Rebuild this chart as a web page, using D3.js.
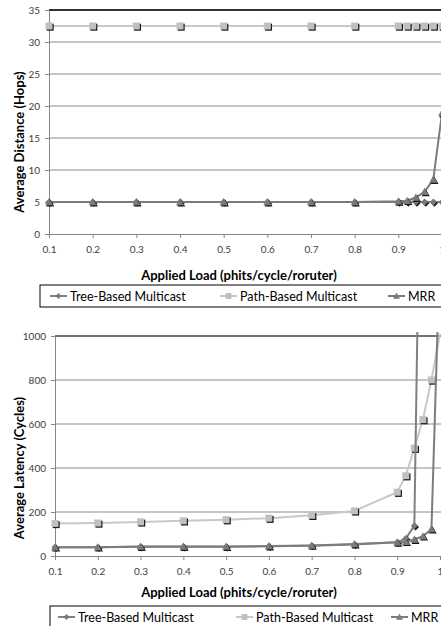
<!DOCTYPE html>
<html lang="en">
  <head>
    <meta charset="UTF-8" />
    <title>Average Distance and Latency vs Applied Load</title>
    <script src="https://d3js.org/d3.v7.min.js"></script>
    <style>
      body {
        margin: 0;
        background: #fff;
      }
      text {
        font-family: Lato, 'Open Sans', sans-serif;
      }
      .tick text {
        font-size: 10px;
        fill: #404040;
      }
      .axis path,
      .axis line {
        stroke: #868686;
      }
      .grid line {
        stroke: #8c8c8c;
      }
    </style>
  </head>
  <body>
    <div id="chart-container"></div>

    <script>
      // Data
      const loads = [0.1, 0.2, 0.3, 0.4, 0.5, 0.6, 0.7, 0.8, 0.9, 0.92, 0.94, 0.96, 0.98, 1];
      const xTicks = [0.1, 0.2, 0.3, 0.4, 0.5, 0.6, 0.7, 0.8, 0.9, 1];
      const seriesNames = ['Tree-Based Multicast', 'Path-Based Multicast', 'MRR'];

      // average distance (hops)
      const treeHops = [5, 5, 5, 5, 5, 5, 5, 5, 5, 5, 5, 5, 5, 5];
      const pathHops = [32.5, 32.5, 32.5, 32.5, 32.5, 32.5, 32.5, 32.5, 32.5, 32.5, 32.5, 32.5, 32.5, 32.5];
      const mrrHops = [5, 5, 5, 5, 5, 5, 5, 5, 5.1, 5.2, 5.7, 6.6, 8.5, 18.9];
      const hopsTicks = [0, 5, 10, 15, 20, 25, 30, 35];

      // average latency (cycles)
      const treeLatency = [40, 40, 42, 42, 42, 44, 47, 52, 62, 80, 137, 2650, null, null];
      const pathLatency = [148, 150, 155, 160, 165, 172, 185, 205, 290, 365, 490, 620, 800, 1010];
      const mrrLatency = [40, 40, 43, 43, 43, 45, 48, 54, 62, 65, 75, 90, 122, 1400];
      const latencyTicks = [0, 200, 400, 600, 800, 1000];

      const svgWidth = 441;
      const svgHeight = 626;

      const svg = d3
        .select('#chart-container')
        .append('svg')
        .attr('width', svgWidth)
        .attr('height', svgHeight);

      // look of each series: line colour, marker shape, marker fill
      const styles = [
        { line: '#808080', shape: 'diamond', fill: '#7a7a7a', size: 7 },
        { line: '#c8c8c8', shape: 'square', fill: '#c0c0c0', size: 7 },
        { line: '#7c7c7c', shape: 'triangle', fill: '#7a7a7a', size: 8 },
      ];

      function markerPath(shape, s) {
        const h = s / 2;
        if (shape === 'diamond') return `M0,${-h}L${h},0L0,${h}L${-h},0Z`;
        if (shape === 'square') return `M${-h},${-h}H${h}V${h}H${-h}Z`;
        return `M0,${-h}L${h},${h * 0.8}L${-h},${h * 0.8}Z`;
      }

      function drawMarker(g, st, x, y) {
        // dark drop shadow like the Excel markers
        g.append('path')
          .attr('d', markerPath(st.shape, st.size))
          .attr('transform', `translate(${x + 1.2},${y + 1.2})`)
          .attr('fill', '#1a1a1a');
        g.append('path')
          .attr('d', markerPath(st.shape, st.size))
          .attr('transform', `translate(${x},${y})`)
          .attr('fill', st.fill);
      }

      function drawChart(cfg) {
        const x = d3.scaleLinear().domain([0.1, 1]).range([cfg.left, cfg.right]);
        const y = d3
          .scaleLinear()
          .domain([0, d3.max(cfg.yTicks)])
          .range([cfg.bottom, cfg.top]);

        const g = svg.append('g');

        // horizontal gridlines
        g.append('g')
          .attr('class', 'grid')
          .selectAll('line')
          .data(cfg.yTicks.slice(1))
          .enter()
          .append('line')
          .attr('x1', cfg.left)
          .attr('x2', svgWidth)
          .attr('y1', (d) => y(d))
          .attr('y2', (d) => y(d));

        // plot area top border
        g.append('line')
          .attr('x1', cfg.left)
          .attr('x2', svgWidth)
          .attr('y1', cfg.top)
          .attr('y2', cfg.top)
          .attr('stroke', cfg.topColor)
          .attr('stroke-width', 1.3);

        // axes
        g.append('g')
          .attr('class', 'axis')
          .attr('transform', `translate(0,${cfg.bottom})`)
          .call(
            d3.axisBottom(x)
              .tickValues(xTicks)
              .tickFormat((d) => (d === 1 ? '1' : d3.format('.1f')(d)))
              .tickSize(4)
              .tickSizeOuter(0)
              .tickPadding(8),
          );

        g.append('g')
          .attr('class', 'axis')
          .attr('transform', `translate(${cfg.left},0)`)
          .call(
            d3.axisLeft(y)
              .tickValues(cfg.yTicks)
              .tickFormat(d3.format('d'))
              .tickSize(4)
              .tickSizeOuter(0)
              .tickPadding(5),
          );

        // series, clipped a little above the plot
        const clipId = 'clip-' + cfg.id;
        g.append('clipPath')
          .attr('id', clipId)
          .append('rect')
          .attr('x', cfg.left - 8)
          .attr('y', cfg.top - 4)
          .attr('width', svgWidth)
          .attr('height', cfg.bottom - cfg.top + 12);

        const plot = g.append('g').attr('clip-path', `url(#${clipId})`);

        const line = d3
          .line()
          .defined((d) => d[1] !== null)
          .x((d) => x(d[0]))
          .y((d) => y(d[1]));

        // draw Path first, then Tree, then MRR on top
        [1, 0, 2].forEach(function (i) {
          const pts = loads.map((l, k) => [l, cfg.series[i][k]]);
          plot.append('path')
            .datum(pts)
            .attr('d', line)
            .attr('fill', 'none')
            .attr('stroke', styles[i].line)
            .attr('stroke-width', 2);
          const mg = plot.append('g');
          pts
            .filter((d) => d[1] !== null && d[1] <= d3.max(cfg.yTicks))
            .forEach((d) => drawMarker(mg, styles[i], x(d[0]), y(d[1])));
        });

        // axis titles
        g.append('text')
          .attr('x', 239)
          .attr('y', cfg.xTitleY)
          .attr('text-anchor', 'middle')
          .style('font-size', '13px')
          .style('font-weight', 'bold')
          .text('Applied Load (phits/cycle/roruter)');

        g.append('text')
          .attr('transform', `translate(24,${cfg.yTitleMid}) rotate(-90)`)
          .attr('text-anchor', 'middle')
          .style('font-size', '13px')
          .style('font-weight', 'bold')
          .text(cfg.yTitle);

        // legend
        const lg = g.append('g');
        lg.append('rect')
          .attr('x', cfg.legendX)
          .attr('y', cfg.legendY)
          .attr('width', svgWidth)
          .attr('height', 22)
          .attr('fill', '#fff')
          .attr('stroke', '#000')
          .attr('stroke-width', 1);

        seriesNames.forEach(function (name, i) {
          const cy = cfg.legendY + 11;
          const ix = cfg.itemX[i];
          lg.append('line')
            .attr('x1', ix)
            .attr('x2', ix + 17)
            .attr('y1', cy)
            .attr('y2', cy)
            .attr('stroke', styles[i].line)
            .attr('stroke-width', 2);
          lg.append('path')
            .attr('d', markerPath(styles[i].shape, styles[i].size - 1))
            .attr('transform', `translate(${ix + 8.5},${cy})`)
            .attr('fill', styles[i].fill);
          lg.append('text')
            .attr('x', ix + 20)
            .attr('y', cy + 4.5)
            .style('font-size', '12.5px')
            .attr('fill', '#000')
            .text(name);
        });
      }

      drawChart({
        id: 'hops',
        left: 49,
        right: 442,
        top: 10,
        bottom: 234,
        topColor: '#000',
        yTicks: hopsTicks,
        series: [treeHops, pathHops, mrrHops],
        xTitleY: 280,
        yTitle: 'Average Distance (Hops)',
        yTitleMid: 142,
        legendX: 40,
        legendY: 285,
        itemX: [50, 220, 388],
      });

      drawChart({
        id: 'latency',
        left: 55,
        right: 440,
        top: 336,
        bottom: 556,
        topColor: '#595959',
        yTicks: latencyTicks,
        series: [treeLatency, pathLatency, mrrLatency],
        xTitleY: 597,
        yTitle: 'Average Latency (Cycles)',
        yTitleMid: 468,
        legendX: 50,
        legendY: 606,
        itemX: [58, 236, 391],
      });
    </script>
  </body>
</html>
